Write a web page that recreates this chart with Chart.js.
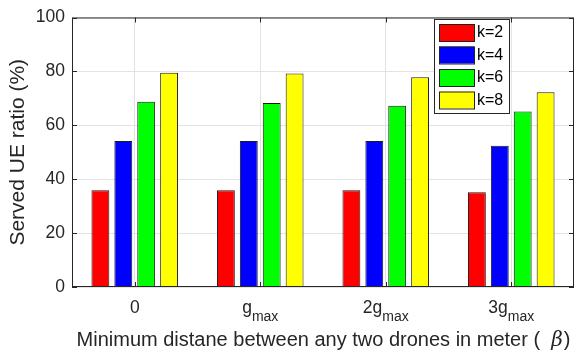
<!DOCTYPE html>
<html>
<head>
<meta charset="utf-8">
<script src="https://cdn.jsdelivr.net/npm/chart.js"></script>
<style>
html,body{margin:0;padding:0;background:#fff;}
#wrap{width:576px;height:356px;}
</style>
</head>
<body>
<div id="wrap"><canvas id="ueChart" width="576" height="356"></canvas></div>
<script>
// data
const categories = ["0", "g_max", "2g_max", "3g_max"];
const seriesNames = ["k=2", "k=4", "k=6", "k=8"];
const k2 = [35.9, 35.9, 35.9, 35.2];
const k4 = [54.2, 54.2, 54.2, 52.4];
const k6 = [68.7, 68.3, 67.3, 65.1];
const k8 = [79.5, 79.2, 77.8, 72.3];
const yTicks = [0, 20, 40, 60, 80, 100];
const colors = ["#ff0000", "#0000ff", "#00ff00", "#ffff00"];

const FONT = "'Liberation Sans', Arial, sans-serif";

// frame + inward ticks like matlab axes
const boxPlugin = {
  id: "box",
  afterDatasetsDraw(chart) {
    const c = chart.ctx, a = chart.chartArea;
    const x = chart.scales.x, y = chart.scales.y;
    c.save();
    c.strokeStyle = "#262626";
    c.lineWidth = 1;
    c.strokeRect(a.left + 0.5, a.top + 0.5, a.right - a.left - 1, a.bottom - a.top - 1);
    c.beginPath();
    yTicks.forEach(v => {
      const py = Math.round(y.getPixelForValue(v)) + 0.5;
      c.moveTo(a.left, py); c.lineTo(a.left + 5, py);
      c.moveTo(a.right, py); c.lineTo(a.right - 5, py);
    });
    categories.forEach((cat, i) => {
      const px = Math.round(x.getPixelForValue(i)) + 0.5;
      c.moveTo(px, a.bottom); c.lineTo(px, a.bottom - 5);
      c.moveTo(px, a.top); c.lineTo(px, a.top + 5);
    });
    c.stroke();
    c.restore();
  }
};

// x tick labels with subscripts + x title with italic beta + legend
const labelPlugin = {
  id: "labels",
  afterDraw(chart) {
    const c = chart.ctx, a = chart.chartArea;
    const x = chart.scales.x;
    c.save();
    c.fillStyle = "#262626";
    c.textBaseline = "alphabetic";
    c.textAlign = "left";
    categories.forEach((cat, i) => {
      const parts = cat.split("_");
      c.font = "17.5px " + FONT;
      const w1 = c.measureText(parts[0]).width;
      let w2 = 0;
      if (parts[1]) { c.font = "14px " + FONT; w2 = c.measureText(parts[1]).width; }
      const px = x.getPixelForValue(i);
      const sx = px - (w1 + w2) / 2;
      c.font = "17.5px " + FONT;
      c.fillText(parts[0], sx, a.bottom + 26);
      if (parts[1]) {
        c.font = "14px " + FONT;
        c.fillText(parts[1], sx + w1, a.bottom + 34);
      }
    });

    // x title
    const t1 = "Minimum distane between any two drones in meter (  ";
    const t2 = "\u03b2";
    const t3 = ")";
    const f1 = "20px " + FONT, f2 = "italic 20px 'DejaVu Serif', serif";
    c.font = f1;
    const w1 = c.measureText(t1).width;
    const w3 = c.measureText(t3).width;
    c.font = f2;
    const w2 = c.measureText(t2).width;
    const sx = (a.left + a.right) / 2 - (w1 + w2 + w3) / 2;
    const by = a.bottom + 59;
    c.font = f1;
    c.fillText(t1, sx, by);
    c.font = f2;
    c.fillText(t2, sx + w1, by);
    c.font = f1;
    c.fillText(t3, sx + w1 + w2 + 1, by);

    // legend inside the plot
    const lx = 434, ly = 19, lw = 75, lh = 94;
    c.fillStyle = "#ffffff";
    c.fillRect(lx, ly, lw, lh);
    c.strokeStyle = "#262626";
    c.lineWidth = 1;
    c.strokeRect(lx + 0.5, ly + 0.5, lw, lh);
    chart.data.datasets.forEach((ds, i) => {
      const ry = ly + 5 + i * 22.5;
      c.fillStyle = ds.backgroundColor;
      c.fillRect(439, ry, 35, 17);
      c.strokeStyle = "#222";
      c.strokeRect(439.5, ry + 0.5, 35, 17);
      c.fillStyle = "#000";
      c.font = "16px " + FONT;
      c.textBaseline = "middle";
      c.fillText(ds.label, 477, ry + 9);
    });
    c.restore();
  }
};

new Chart(document.getElementById("ueChart"), {
  type: "bar",
  data: {
    labels: categories,
    datasets: [k2, k4, k6, k8].map((d, i) => ({
      label: seriesNames[i],
      data: d,
      backgroundColor: colors[i],
      borderColor: "#1a1a1a",
      borderWidth: 1,
      categoryPercentage: 0.73,
      barPercentage: 0.78
    }))
  },
  options: {
    responsive: false,
    animation: false,
    layout: { padding: { top: 14, right: 2, left: 0, bottom: 0 } },
    plugins: {
      legend: { display: false },
      tooltip: { enabled: false }
    },
    scales: {
      x: {
        grid: { offset: false, color: "#e3e3e3", drawTicks: false },
        border: { display: false },
        ticks: { callback: () => "" },
        afterFit: s => { s.height = 69; }
      },
      y: {
        min: 0,
        max: 100,
        afterBuildTicks: s => { s.ticks = yTicks.map(v => ({ value: v })); },
        grid: { color: "#e3e3e3", drawTicks: false },
        border: { display: false },
        ticks: {
          color: "#262626",
          padding: 7,
          font: { family: FONT, size: 17.5 }
        },
        title: {
          display: true,
          text: "Served UE ratio (%)",
          color: "#262626",
          font: { family: FONT, size: 21 },
          padding: { top: 6, bottom: 0 }
        },
        afterFit: s => { s.width = 72; }
      }
    }
  },
  plugins: [boxPlugin, labelPlugin]
});
</script>
</body>
</html>
